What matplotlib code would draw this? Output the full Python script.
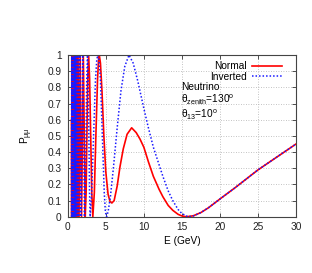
import matplotlib
matplotlib.use("Agg")
import matplotlib.pyplot as plt

plt.rcParams['font.family'] = ['Liberation Sans', 'DejaVu Sans']
plt.rcParams['mathtext.fontset'] = 'custom'
plt.rcParams['mathtext.rm'] = 'Liberation Sans'
plt.rcParams['mathtext.it'] = 'Liberation Sans'
plt.rcParams['mathtext.default'] = 'regular'

# Normal hierarchy (red, solid)
normal_E = [0.50, 0.52, 0.54, 0.56, 0.58, 0.60, 0.625, 0.65, 0.678, 0.707, 0.74, 0.775,
            0.815, 0.86, 0.905, 0.96, 1.02, 1.09, 1.17, 1.26, 1.36, 1.49, 1.64, 1.82,
            2.05, 2.18, 2.30, 2.42, 2.52, 2.63, 2.75, 2.88, 3.02, 3.16, 3.30, 3.50, 3.70,
            3.92, 4.05, 4.15, 4.30, 4.50, 4.75, 5.00, 5.30, 5.55, 5.80, 6.10, 6.50, 6.87,
            7.30, 7.80, 8.40, 9.00, 9.50, 10.0, 10.6, 11.25, 12.0, 12.5, 13.2, 13.8, 14.5,
            15.0, 15.6, 16.5, 17.5, 18.5, 20.0, 22.0, 25.0, 27.5, 30.0]
normal_P = [0.60, 0.0, 1.0, 0.0, 1.0, 0.0, 1.0, 0.0, 1.0, 0.0, 1.0, 0.0,
            1.0, 0.0, 1.0, 0.0, 1.0, 0.0, 1.0, 0.0, 1.0, 0.0, 1.0, 0.0,
            1.0, 0.5, 0.0, 0.15, 0.5, 0.85, 1.0, 0.85, 0.5, 0.15, 0.0, 0.15, 0.5,
            0.85, 0.97, 1.0, 0.95, 0.78, 0.50, 0.28, 0.14, 0.095, 0.085, 0.10, 0.19, 0.31,
            0.42, 0.51, 0.55, 0.52, 0.48, 0.43, 0.34, 0.25, 0.17, 0.124, 0.07, 0.04, 0.015,
            0.005, 0.0, 0.006, 0.026, 0.056, 0.11, 0.18, 0.29, 0.37, 0.45]

# Inverted hierarchy (blue, dotted)
inverted_E = [0.51, 0.527, 0.546, 0.565, 0.588, 0.61, 0.635, 0.66, 0.69, 0.72, 0.755, 0.79,
              0.835, 0.88, 0.935, 0.99, 1.06, 1.13, 1.22, 1.32, 1.44, 1.58, 1.76, 1.97,
              2.08, 2.20, 2.30, 2.40, 2.50, 2.60, 2.69, 2.78, 2.87, 2.95, 3.15, 3.40, 3.65,
              3.82, 3.95, 4.10, 4.30, 4.55, 4.80, 4.95, 5.10, 5.30, 5.60, 6.00, 6.50, 7.00,
              7.50, 8.05, 8.60, 9.20, 10.0, 10.6, 11.25, 12.5, 13.2, 13.8, 14.5, 15.0, 15.8,
              16.5, 17.5, 18.5, 20.0, 22.0, 25.0, 27.5, 30.0]
inverted_P = [0.0, 1.0, 0.0, 1.0, 0.0, 1.0, 0.0, 1.0, 0.0, 1.0, 0.0, 1.0,
              0.0, 1.0, 0.0, 1.0, 0.0, 1.0, 0.0, 1.0, 0.0, 1.0, 0.0, 1.0,
              0.5, 0.0, 0.15, 0.5, 0.85, 1.0, 0.85, 0.5, 0.15, 0.0, 0.15, 0.5, 0.85,
              0.97, 1.0, 0.97, 0.85, 0.5, 0.15, 0.03, 0.0, 0.03, 0.12, 0.30, 0.55, 0.78,
              0.93, 1.0, 0.95, 0.84, 0.67, 0.55, 0.43, 0.25, 0.16, 0.10, 0.045, 0.02, 0.0,
              0.005, 0.026, 0.056, 0.11, 0.18, 0.29, 0.37, 0.45]

x_ticks = [0, 5, 10, 15, 20, 25, 30]
y_ticks = [0, 0.1, 0.2, 0.3, 0.4, 0.5, 0.6, 0.7, 0.8, 0.9, 1]
y_tick_labels = ["0", "0.1", "0.2", "0.3", "0.4", "0.5", "0.6", "0.7", "0.8", "0.9", "1"]

FS = 7.3

fig = plt.figure(figsize=(3.12, 2.73), dpi=100)
ax = fig.add_axes([0.217, 0.206, 0.732, 0.5925])

ax.plot(normal_E, normal_P, color='#ff0000', lw=1.2, label='Normal')
ax.plot(inverted_E, inverted_P, color='#1a1aff', lw=1.1, ls=(0, (1, 1.3)), label='Inverted')

ax.set_xlim(0, 30)
ax.set_ylim(0, 1)
ax.set_xticks(x_ticks)
ax.set_xticklabels([str(t) for t in x_ticks])
ax.set_yticks(y_ticks)
ax.set_yticklabels(y_tick_labels)
ax.grid(True, color='#b0b0b0', ls=(0, (1, 2)), lw=0.6)
ax.tick_params(direction='in', length=3, width=0.6, labelsize=FS, top=True, right=True,
               colors='#333333', labelcolor='#222222')
ax.tick_params(axis='y', pad=4.5)
ax.tick_params(axis='x', pad=4)
for s in ax.spines.values():
    s.set_color('#444444')
    s.set_linewidth(0.8)

ax.set_xlabel('E (GeV)', fontsize=FS, labelpad=3)
ax.set_ylabel(r'P$_{μμ}$', fontsize=FS, labelpad=9)

ax.legend(loc='upper right', frameon=False, markerfirst=False, fontsize=FS,
          handlelength=3.0, handletextpad=0.5, labelspacing=0.05,
          borderaxespad=0.2, bbox_to_anchor=(0.965, 1.0))

ax.text(0.495, 0.805, 'Neutrino', transform=ax.transAxes, fontsize=FS, va='center')
ax.text(0.495, 0.72, r'θ$_{zenith}$=130$^{o}$', transform=ax.transAxes, fontsize=FS, va='center')
ax.text(0.495, 0.628, r'θ$_{13}$=10$^{o}$', transform=ax.transAxes, fontsize=FS, va='center')

fig.savefig('out.png', dpi=100)
